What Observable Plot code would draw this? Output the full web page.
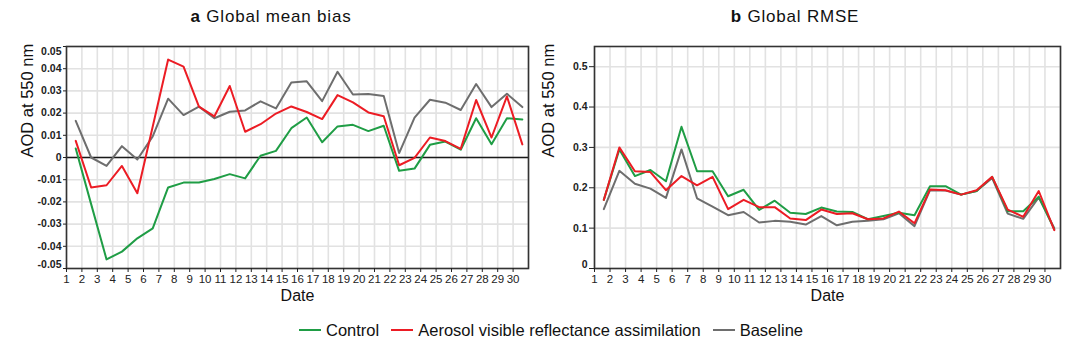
<!DOCTYPE html>
<html>
<head>
<meta charset="utf-8">
<script src="https://cdn.jsdelivr.net/npm/d3@7"></script>
<script src="https://cdn.jsdelivr.net/npm/@observablehq/plot@0.6"></script>
<style>
  html, body { margin: 0; padding: 0; background: #fff; }
  #wrap { position: relative; width: 1090px; height: 350px; font-family: "Liberation Sans", Arial, sans-serif; color: #111; }
  .panel { position: absolute; top: 0; }
  .title { position: absolute; top: 6px; font-size: 17px; letter-spacing: 0.8px; white-space: nowrap; transform: translateX(-50%); line-height: 22px; }
  .title b { font-weight: bold; }
  #legend { position: absolute; top: 319px; left: 0; width: 1102px; display: flex; justify-content: center; align-items: center; font-size: 16.5px; line-height: 22px; }
  .item { display: flex; align-items: center; margin: 0 6px; }
  .sw { width: 22px; height: 0; border-top: 2.5px solid; margin-right: 5px; }
</style>
</head>
<body>
<div id="wrap"></div>
<script>
// ---- data ----
const days = [1, 2, 3, 4, 5, 6, 7, 8, 9, 10, 11, 12, 13, 14, 15, 16, 17, 18, 19, 20, 21, 22, 23, 24, 25, 26, 27, 28, 29, 30];
const dayTicks = [1, 2, 3, 4, 5, 6, 7, 8, 9, 10, 11, 12, 13, 14, 15, 16, 17, 18, 19, 20, 21, 22, 23, 24, 25, 26, 27, 28, 29, 30];
const dayGrid = [1, 2, 3, 4, 5, 6, 7, 8, 9, 10, 11, 12, 13, 14, 15, 16, 17, 18, 19, 20, 21, 22, 23, 24, 25, 26, 27, 28, 29, 30, 31];
const seriesNames = ["Control", "Aerosol visible reflectance assimilation", "Baseline"];
const seriesColors = ["#1f9d45", "#ec1c24", "#6e6e6e"];

const biasControl = [0.0041, -0.021, -0.0459, -0.0424, -0.0364, -0.0319, -0.0135, -0.0113, -0.0113, -0.0097, -0.0075, -0.0094, 0.0008, 0.003, 0.0132, 0.018, 0.0069, 0.014, 0.0147, 0.0119, 0.0143, -0.006, -0.005, 0.0057, 0.0072, 0.0035, 0.0177, 0.006, 0.0177, 0.0171];
const biasAssim = [0.0075, -0.0135, -0.0125, -0.0038, -0.0161, 0.014, 0.0441, 0.0409, 0.0229, 0.0185, 0.0322, 0.0116, 0.015, 0.0198, 0.023, 0.0205, 0.0173, 0.0281, 0.0248, 0.0203, 0.0186, -0.0035, -0.0002, 0.009, 0.0074, 0.0039, 0.0259, 0.009, 0.0275, 0.0059];
const biasBaseline = [0.0165, 0, -0.0038, 0.0051, -0.0009, 0.0095, 0.0265, 0.0191, 0.0229, 0.0177, 0.0206, 0.0212, 0.0253, 0.0221, 0.0338, 0.0343, 0.0254, 0.0386, 0.0284, 0.0286, 0.0277, 0.002, 0.018, 0.026, 0.0247, 0.0214, 0.0331, 0.0227, 0.0287, 0.0227];

const rmseControl = [0.17, 0.295, 0.229, 0.244, 0.216, 0.351, 0.241, 0.241, 0.179, 0.195, 0.145, 0.168, 0.138, 0.135, 0.151, 0.141, 0.14, 0.122, 0.13, 0.138, 0.132, 0.204, 0.204, 0.183, 0.192, 0.227, 0.142, 0.142, 0.178, 0.097];
const rmseAssim = [0.17, 0.30, 0.241, 0.239, 0.194, 0.229, 0.206, 0.227, 0.147, 0.17, 0.152, 0.152, 0.124, 0.12, 0.146, 0.135, 0.137, 0.122, 0.124, 0.141, 0.112, 0.196, 0.194, 0.183, 0.194, 0.227, 0.146, 0.128, 0.192, 0.095];
const rmseBaseline = [0.147, 0.242, 0.21, 0.198, 0.175, 0.295, 0.174, 0.153, 0.132, 0.14, 0.114, 0.118, 0.116, 0.109, 0.13, 0.107, 0.116, 0.118, 0.122, 0.137, 0.105, 0.194, 0.193, 0.183, 0.192, 0.224, 0.136, 0.123, 0.176, 0.1];

const biasTicks = [-0.05, -0.04, -0.03, -0.02, -0.01, 0, 0.01, 0.02, 0.03, 0.04, 0.05];
const biasTicksInner = [-0.04, -0.03, -0.02, -0.01, 0, 0.01, 0.02, 0.03, 0.04];
const rmseTicks = [0, 0.1, 0.2, 0.3, 0.4, 0.5];
const rmseTicksInner = [0.1, 0.2, 0.3, 0.4, 0.5];

const panelTitles = [["a", "Global mean bias"], ["b", "Global RMSE"]];
const yLabel = "AOD at 550 nm";
const xLabel = "Date";

// ---- helpers ----
const offset = 0.6; // points sit between the day grid lines
const toRows = (vals) => days.map((d, i) => ({day: d, value: vals[i]}));
const font = '"Liberation Sans", Arial, sans-serif';

function panel({width, marginLeft, marginRight, yDomain, ticks, inner, fmt, series, zero, endShifts, yLabelDx, yTickSize}) {
  const marks = [
    Plot.gridX(dayGrid, {stroke: "#e2e2e2", strokeOpacity: 1, strokeWidth: 1.6}),
    Plot.gridY(ticks, {stroke: "#e2e2e2", strokeOpacity: 1, strokeWidth: 1.6}),
  ];
  if (zero) marks.push(Plot.ruleY([0], {stroke: "#1a1a1a", strokeWidth: 1.6}));
  // lines: gray first, then green, then red
  const order = [2, 0, 1];
  for (const k of order) {
    marks.push(Plot.line(toRows(series[k]), {x: d => d.day + offset, y: "value", stroke: seriesColors[k], strokeWidth: 2}));
  }
  marks.push(Plot.frame({stroke: "#333", strokeWidth: 1.6}));
  marks.push(Plot.axisX(dayTicks, {tickSize: 4, tickPadding: 2, fontSize: 11.5, stroke: "#222", fill: "#222", label: null}));
  marks.push(Plot.axisY(ticks, {tickSize: yTickSize, tickFormat: () => "", stroke: "#222", label: null}));
  marks.push(Plot.axisY(inner, {tickSize: 0, tickPadding: yTickSize + 2, tickFormat: fmt, fontSize: 10.5, fontWeight: "bold", fill: "#222", label: null}));
  for (const [v, dy] of endShifts) {
    marks.push(Plot.axisY([v], {tickSize: 0, tickPadding: yTickSize + 2, tickFormat: fmt, fontSize: 10.5, fontWeight: "bold", fill: "#222", dy, label: null}));
  }
  marks.push(Plot.text([yLabel], {frameAnchor: "left", rotate: -90, dx: yLabelDx, fontSize: 16.5, fill: "#111"}));
  marks.push(Plot.text([xLabel], {frameAnchor: "bottom", dy: 32, fontSize: 16, fill: "#111"}));
  return Plot.plot({
    width, height: 310,
    marginTop: 46, marginBottom: 42, marginLeft, marginRight,
    style: {fontFamily: font, background: "transparent", color: "#222", overflow: "visible"},
    x: {domain: [1, 31]},
    y: {domain: yDomain},
    marks
  });
}

const wrap = document.getElementById("wrap");

const left = panel({
  width: 540, marginLeft: 66, marginRight: 12,
  yDomain: [-0.05, 0.05], ticks: biasTicks, inner: biasTicksInner,
  fmt: d => d === 0 ? "0" : d.toFixed(2),
  series: [biasControl, biasAssim, biasBaseline], zero: true,
  endShifts: [[0.05, 5], [-0.05, -4]], yLabelDx: -39, yTickSize: 3
});
left.classList.add("panel"); left.style.left = "0px";
wrap.appendChild(left);

const right = panel({
  width: 550, marginLeft: 54, marginRight: 30,
  yDomain: [0, 0.55], ticks: rmseTicks, inner: rmseTicksInner,
  fmt: d => d === 0 ? "0" : d.toFixed(1),
  series: [rmseControl, rmseAssim, rmseBaseline], zero: false,
  endShifts: [[0, -4]], yLabelDx: -46, yTickSize: 5
});
right.classList.add("panel"); right.style.left = "540px";
wrap.appendChild(right);

const titleCenters = [271, 795];
panelTitles.forEach(([letter, text], i) => {
  const t = document.createElement("div");
  t.className = "title";
  t.style.left = titleCenters[i] + "px";
  const b = document.createElement("b");
  b.textContent = letter;
  t.appendChild(b);
  t.appendChild(document.createTextNode(" " + text));
  wrap.appendChild(t);
});

const legend = document.createElement("div");
legend.id = "legend";
seriesNames.forEach((name, i) => {
  const it = document.createElement("div");
  it.className = "item";
  const sw = document.createElement("span");
  sw.className = "sw";
  sw.style.borderTopColor = seriesColors[i];
  it.appendChild(sw);
  const tx = document.createElement("span");
  tx.textContent = name;
  it.appendChild(tx);
  legend.appendChild(it);
});
wrap.appendChild(legend);
</script>
</body>
</html>
